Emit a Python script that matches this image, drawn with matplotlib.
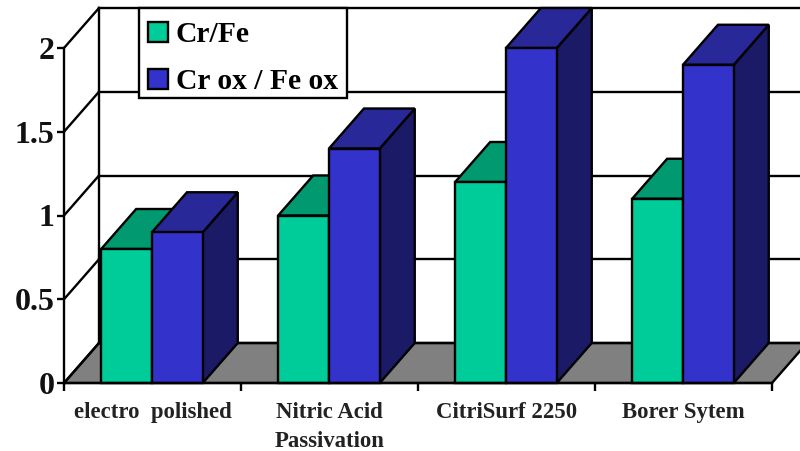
import numpy as np
import matplotlib
matplotlib.use("Agg")
import matplotlib.pyplot as plt
from matplotlib.patches import Polygon, Patch, Rectangle

categories = ["electro  polished", "Nitric Acid\nPassivation", "CitriSurf 2250", "Borer Sytem"]
cr_fe = [0.80, 1.00, 1.20, 1.10]
cr_ox_fe_ox = [0.90, 1.40, 2.00, 1.90]
y_ticks = [0, 0.5, 1, 1.5, 2]
y_labels = ["0", "0.5", "1", "1.5", "2"]

W, H = 800, 451
plt.rcParams["font.family"] = ["Liberation Serif", "DejaVu Serif"]
plt.rcParams["font.weight"] = "bold"
LW = 1.7
fig = plt.figure(figsize=(W / 100, H / 100), dpi=100)
ax = fig.add_axes([64 / W, 1 - 383 / H, (772 - 64) / W, (383 - 48) / H])
ax.set_xlim(0, 4)
ax.set_ylim(0, 2)
ax.patch.set_alpha(0)

DX = 35 / 177
DY = 40 / 167.5
BAR_W = 0.287
BAR_START = 0.21


def poly(pts, color, z):
    ax.add_patch(Polygon(pts, closed=True, facecolor=color, edgecolor="black",
                         linewidth=LW, zorder=z, clip_on=False, joinstyle="miter"))


# floor
poly([(0, 0), (DX, DY), (4 + DX, DY), (4, 0)], "#808080", 1)
# walls and gridlines
for t in y_ticks:
    ax.plot([0, DX], [t, t + DY], color="black", lw=LW, zorder=2, clip_on=False)
    ax.plot([DX, 4 + DX], [t + DY, t + DY], color="black", lw=LW, zorder=2, clip_on=False)
ax.plot([DX, DX], [DY, 2 + DY], color="black", lw=LW, zorder=2, clip_on=False)


def bar3d(x, v, front, top, side, z):
    ax.bar(x, v, BAR_W, align="edge", color=front, edgecolor="black", linewidth=LW, zorder=z + 2, clip_on=False)
    poly([(x, v), (x + DX, v + DY), (x + BAR_W + DX, v + DY), (x + BAR_W, v)], top, z + 1)
    poly([(x + BAR_W, 0), (x + BAR_W + DX, DY), (x + BAR_W + DX, v + DY), (x + BAR_W, v)], side, z)


for i in range(len(categories)):
    bar3d(i + BAR_START, cr_fe[i], "#00CC99", "#009970", "#00805F", 3 + i * 10)
    bar3d(i + BAR_START + BAR_W, cr_ox_fe_ox[i], "#3333CC", "#282899", "#1A1A66", 7 + i * 10)

for s in ("top", "right"):
    ax.spines[s].set_visible(False)
for s in ("left", "bottom"):
    ax.spines[s].set_linewidth(LW)
    ax.spines[s].set_zorder(60)

ax.set_yticks(y_ticks, y_labels, fontsize=23, fontweight="bold", color="#111111")
ax.tick_params(axis="y", length=5, width=LW, pad=2)
ax.set_xticks(range(5), [""] * 5)
ax.tick_params(axis="x", which="major", length=6, width=LW)
ax.set_xticks(np.arange(len(categories)) + 0.5, categories, minor=True,
              fontsize=16.4, fontweight="bold", linespacing=1.47)
ax.tick_params(axis="x", which="minor", length=0, pad=14)
for lbl in ax.get_xminorticklabels():
    lbl.set_verticalalignment("top")
    lbl.set_color("#222222")

# legend box
ax.add_patch(Rectangle((139 / W, 1 - 98 / H), 208 / W, 90 / H, transform=fig.transFigure,
                       facecolor="white", edgecolor="black", linewidth=LW,
                       zorder=99, clip_on=False))
handles = [Patch(facecolor="#00CC99", edgecolor="black", linewidth=LW, label="Cr/Fe"),
           Patch(facecolor="#3333CC", edgecolor="black", linewidth=LW, label="Cr ox / Fe ox")]
leg = ax.legend(handles=handles, loc="upper left",
                bbox_to_anchor=(139 / W, 1 - 12 / H), bbox_transform=fig.transFigure,
                frameon=False, borderpad=0.32, labelspacing=0.66,
                handlelength=0.67, handleheight=0.67, handletextpad=0.25, borderaxespad=0,
                prop={"size": 21.3, "weight": "bold"})
leg.set_zorder(100)

fig.savefig("out.png", dpi=100)
